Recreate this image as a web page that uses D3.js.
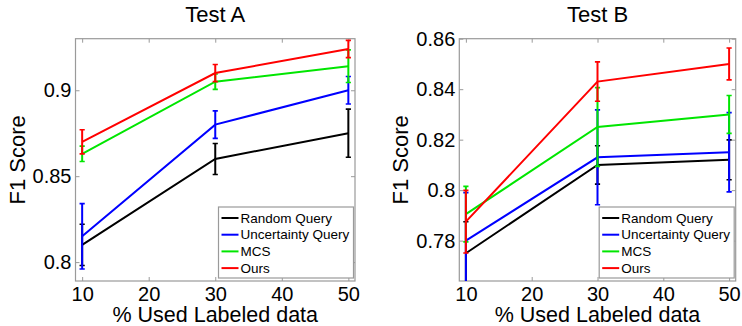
<!DOCTYPE html>
<html>
<head>
<meta charset="utf-8">
<script src="https://cdn.jsdelivr.net/npm/d3@7"></script>
<style>
	body { margin: 0; background: #fff; }
	text { font-family: "Liberation Sans", Arial, sans-serif; fill: #000; }
</style>
</head>
<body>
<div id="chart"></div>
<script>
///////////////////////////////////////////////////////////////////////////
///////////////////////////// The data ////////////////////////////////////
///////////////////////////////////////////////////////////////////////////

var usedLabeled = [10, 30, 50];
var seriesNames = ["Random Query", "Uncertainty Query", "MCS", "Ours"];

//Test A - F1 score and error bar half-length per method
var testARandom = [0.810, 0.860, 0.875],
	testARandomErr = [0.012, 0.009, 0.014],
	testAUncertainty = [0.815, 0.880, 0.900],
	testAUncertaintyErr = [0.019, 0.008, 0.008],
	testAMCS = [0.863, 0.905, 0.914],
	testAMCSErr = [0.0045, 0.0045, 0.0095],
	testAOurs = [0.870, 0.910, 0.924],
	testAOursErr = [0.007, 0.005, 0.005];

//Test B
var testBRandom = [0.775, 0.810, 0.812],
	testBRandomErr = [0.0125, 0.0076, 0.0079],
	testBUncertainty = [0.780, 0.813, 0.815],
	testBUncertaintyErr = [0.019, 0.0188, 0.0157],
	testBMCS = [0.7905, 0.825, 0.830],
	testBMCSErr = [0.011, 0.0156, 0.0075],
	testBOurs = [0.7875, 0.843, 0.850],
	testBOursErr = [0.0124, 0.0078, 0.0063];

var xTicks = [10, 20, 30, 40, 50];
var testAYTicks = [0.8, 0.85, 0.9],
	testBYTicks = [0.78, 0.8, 0.82, 0.84, 0.86];

///////////////////////////////////////////////////////////////////////////
///////////////////// Initiate global variables ///////////////////////////
///////////////////////////////////////////////////////////////////////////

var width = 742,
	height = 326,
	lineColors = ["#000000", "#0000ff", "#00e600", "#ff0000"],
	boxColor = "#9a9a9a";

var svg = d3.select("#chart").append("svg")
	.attr("width", width)
	.attr("height", height);

var panels = [
	{
		title: "Test A",
		left: 75.5, right: 355, top: 38.7, bottom: 281,
		xDomain: [9, 51], yDomain: [0.789, 0.93],
		yTicks: testAYTicks,
		series: [
			[testARandom, testARandomErr],
			[testAUncertainty, testAUncertaintyErr],
			[testAMCS, testAMCSErr],
			[testAOurs, testAOursErr]
		]
	},
	{
		title: "Test B",
		left: 459.3, right: 735.7, top: 38.7, bottom: 281,
		xDomain: [9, 51], yDomain: [0.764, 0.86],
		yTicks: testBYTicks,
		series: [
			[testBRandom, testBRandomErr],
			[testBUncertainty, testBUncertaintyErr],
			[testBMCS, testBMCSErr],
			[testBOurs, testBOursErr]
		]
	}
];

panels.forEach(drawPanel);

///////////////////////////////////////////////////////////////////////////
///////////////////////// Draw one panel //////////////////////////////////
///////////////////////////////////////////////////////////////////////////

function drawPanel(p, pi) {

	var x = d3.scaleLinear().domain(p.xDomain).range([p.left, p.right]),
		y = d3.scaleLinear().domain(p.yDomain).range([p.bottom, p.top]);

	var g = svg.append("g").attr("class", "panel");

	//Clip everything to the axes box
	g.append("clipPath")
		.attr("id", "clip" + pi)
	  .append("rect")
		.attr("x", p.left)
		.attr("y", p.top)
		.attr("width", p.right - p.left)
		.attr("height", p.bottom - p.top);

	//Axes - ticks point inward, on all four sides
	var bottomAxis = d3.axisBottom(x).tickValues(xTicks).tickSizeInner(-4).tickSizeOuter(0).tickPadding(6),
		topAxis = d3.axisTop(x).tickValues(xTicks).tickSizeInner(-4).tickSizeOuter(0).tickFormat(""),
		leftAxis = d3.axisLeft(y).tickValues(p.yTicks).tickSizeInner(-4).tickSizeOuter(0).tickPadding(4)
			.tickFormat(function(d) { return String(+d.toFixed(2)); }),
		rightAxis = d3.axisRight(y).tickValues(p.yTicks).tickSizeInner(-4).tickSizeOuter(0).tickFormat("");

	[
		[bottomAxis, "translate(0," + p.bottom + ")"],
		[topAxis, "translate(0," + p.top + ")"],
		[leftAxis, "translate(" + p.left + ",0)"],
		[rightAxis, "translate(" + p.right + ",0)"]
	].forEach(function(a) {
		var ax = g.append("g")
			.attr("transform", a[1])
			.call(a[0]);
		ax.select(".domain").remove();
		ax.selectAll("line").attr("stroke", boxColor);
		ax.selectAll("text")
			.style("font-family", "'Liberation Sans', Arial, sans-serif")
			.style("font-size", "20px")
			.attr("fill", "#000");
	});

	//The box
	g.append("rect")
		.attr("x", p.left)
		.attr("y", p.top)
		.attr("width", p.right - p.left)
		.attr("height", p.bottom - p.top)
		.attr("fill", "none")
		.attr("stroke", boxColor)
		.attr("stroke-width", 1.2);

	var plot = g.append("g").attr("clip-path", "url(#clip" + pi + ")");

	var line = d3.line()
		.x(function(d, i) { return x(usedLabeled[i]); })
		.y(function(d) { return y(d); });

	var cap = 2.6;

	p.series.forEach(function(s, si) {
		var vals = s[0], errs = s[1], col = lineColors[si];

		plot.append("path")
			.datum(vals)
			.attr("d", line)
			.attr("fill", "none")
			.attr("stroke", col)
			.attr("stroke-width", 2);

		var bars = plot.selectAll(".err" + si)
			.data(vals)
			.enter().append("g")
			.attr("class", "err" + si);

		//vertical part
		bars.append("line")
			.attr("x1", function(d, i) { return x(usedLabeled[i]); })
			.attr("x2", function(d, i) { return x(usedLabeled[i]); })
			.attr("y1", function(d, i) { return y(d - errs[i]); })
			.attr("y2", function(d, i) { return y(d + errs[i]); })
			.attr("stroke", col)
			.attr("stroke-width", 2);
		//caps
		[-1, 1].forEach(function(sign) {
			bars.append("line")
				.attr("x1", function(d, i) { return x(usedLabeled[i]) - cap; })
				.attr("x2", function(d, i) { return x(usedLabeled[i]) + cap; })
				.attr("y1", function(d, i) { return y(d + sign * errs[i]); })
				.attr("y2", function(d, i) { return y(d + sign * errs[i]); })
				.attr("stroke", col)
				.attr("stroke-width", 1.6);
		});
	});

	//Title
	g.append("text")
		.attr("x", (p.left + p.right) / 2)
		.attr("y", 22)
		.style("text-anchor", "middle")
		.style("font-size", "22px")
		.text(p.title);

	//X label
	g.append("text")
		.attr("x", (p.left + p.right) / 2)
		.attr("y", 322)
		.style("text-anchor", "middle")
		.style("font-size", "21.5px")
		.text("% Used Labeled data");

	//Y label
	g.append("text")
		.attr("transform", "translate(" + (p.left - 51) + "," + ((p.top + p.bottom) / 2) + ")rotate(-90)")
		.style("text-anchor", "middle")
		.style("font-size", "22px")
		.text("F1 Score");

	//Legend
	var legW = 135, legH = 71, rowH = 16.7,
		legX = p.right - legW - 1.5,
		legY = p.bottom - legH - 3;

	var legend = g.append("g")
		.attr("transform", "translate(" + legX + "," + legY + ")");

	legend.append("rect")
		.attr("width", legW)
		.attr("height", legH)
		.attr("fill", "#fff")
		.attr("stroke", boxColor)
		.attr("stroke-width", 1.2);

	var entries = legend.selectAll(".legendEntry")
		.data(seriesNames)
		.enter().append("g")
		.attr("class", "legendEntry")
		.attr("transform", function(d, i) { return "translate(0," + (11 + i * rowH) + ")"; });

	entries.append("line")
		.attr("x1", 3)
		.attr("x2", 20)
		.attr("stroke", function(d, i) { return lineColors[i]; })
		.attr("stroke-width", 2);

	entries.append("text")
		.attr("x", 22)
		.attr("dy", ".35em")
		.style("font-size", "13.5px")
		.text(function(d) { return d; });
}
</script>
</body>
</html>
